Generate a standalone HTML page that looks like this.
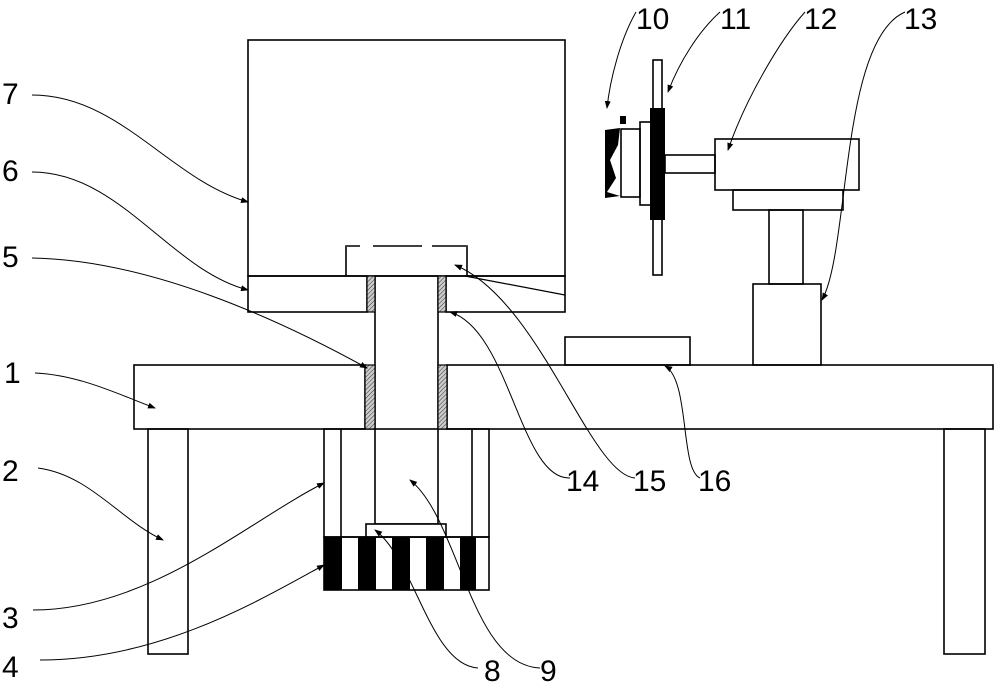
<!DOCTYPE html>
<html><head><style>body{margin:0;background:#fff}svg{display:block}</style></head><body>
<svg width="1000" height="687" viewBox="0 0 1000 687" xmlns="http://www.w3.org/2000/svg">
<defs>
<pattern id="h" width="3" height="3" patternUnits="userSpaceOnUse" patternTransform="rotate(45)"><rect width="3" height="3" fill="#ccc"/><line x1="0" y1="0" x2="0" y2="3" stroke="#333" stroke-width="1"/></pattern>
<marker id="a" markerWidth="8" markerHeight="6" refX="7" refY="3" orient="auto"><path d="M0,0 L8,3 L0,6z" fill="#000"/></marker>
</defs>
<g fill="none" stroke="#000" stroke-width="1.6">
<rect x="248" y="40" width="317" height="236"/>
<rect x="248" y="276" width="119" height="36"/>
<rect x="446" y="276" width="119" height="36"/>
<line x1="465" y1="276" x2="565" y2="295" stroke-width="1.2"/>
<path d="M346,276 V246 H467 V276"/>
<line x1="346" y1="246" x2="467" y2="246" stroke="#fff" stroke-width="2"/>
<path d="M346,246 H360 M373,246 H422 M432,246 H467"/>
<rect x="134" y="365" width="231" height="64"/>
<rect x="447" y="365" width="546" height="64"/>
<rect x="148" y="429" width="40" height="225"/>
<rect x="944" y="429" width="41" height="225"/>
<rect x="375" y="276" width="63" height="248"/>
<rect x="324" y="429" width="165" height="108"/>
<line x1="341" y1="429" x2="341" y2="537"/>
<line x1="472" y1="429" x2="472" y2="537"/>
<rect x="366" y="524" width="80" height="13" fill="#fff"/>
<rect x="324" y="537" width="165" height="53"/>
<rect x="565" y="337" width="125" height="28"/>
<rect x="753" y="284" width="68" height="81"/>
<rect x="769" y="210" width="34" height="74"/>
<rect x="733" y="190" width="110" height="20"/>
<rect x="715" y="139" width="144" height="51"/>
<rect x="665" y="155" width="50" height="18"/>
<rect x="653" y="60" width="9" height="215"/>
<rect x="640" y="122" width="12" height="83"/>
<rect x="621" y="129" width="19" height="68"/>
</g>
<g fill="url(#h)" stroke="#000" stroke-width="1.2">
<rect x="367" y="276" width="8" height="36"/><rect x="438" y="276" width="8" height="36"/>
<rect x="365" y="365" width="10" height="64"/><rect x="438" y="365" width="9" height="64"/>
</g>
<g fill="#000">
<rect x="324" y="537" width="18" height="53"/><rect x="358" y="537" width="18" height="53"/>
<rect x="392" y="537" width="18" height="53"/><rect x="426" y="537" width="18" height="53"/>
<rect x="460" y="537" width="16" height="53"/>
<rect x="650" y="108" width="15" height="112"/>
<path d="M605,130 L620,128 L618,145 L610,160 L616,178 L607,192 L620,196 L605,198 Z"/>
<rect x="620" y="116" width="6" height="8"/>
</g>
<g fill="none" stroke="#000" stroke-width="1" marker-end="url(#a)">
<path d="M32,95 C120,95 170,180 248,202"/>
<path d="M32,172 C120,172 170,270 248,290"/>
<path d="M32,258 C150,260 280,320 367,368"/>
<path d="M35,373 C80,375 120,395 155,408"/>
<path d="M38,468 C90,475 120,520 163,540"/>
<path d="M33,610 C150,610 250,520 324,483"/>
<path d="M40,660 C160,660 260,600 324,565"/>
<path d="M478,668 C430,665 415,560 375,530"/>
<path d="M540,668 C470,665 460,520 410,480"/>
<path d="M570,478 C520,480 510,330 450,312"/>
<path d="M635,478 C590,475 540,300 455,265"/>
<path d="M700,478 C680,470 690,380 665,366"/>
<path d="M636,12 C620,40 610,80 607,108"/>
<path d="M720,12 C700,30 680,60 668,92"/>
<path d="M805,12 C780,40 745,100 728,150"/>
<path d="M905,12 C840,40 850,250 822,300"/>
</g>
<g font-family="Liberation Sans, sans-serif" font-size="30" fill="#000">
<text x="2" y="104">7</text><text x="2" y="181">6</text><text x="2" y="267">5</text>
<text x="4" y="383">1</text><text x="2" y="481">2</text><text x="2" y="628">3</text>
<text x="2" y="677">4</text><text x="484" y="681">8</text><text x="540" y="681">9</text>
<text x="566" y="491">14</text><text x="633" y="491">15</text><text x="698" y="491">16</text>
<text x="636" y="29">10</text><text x="720" y="29">11</text><text x="804" y="29">12</text><text x="904" y="29">13</text>
</g>
</svg>
</body></html>
